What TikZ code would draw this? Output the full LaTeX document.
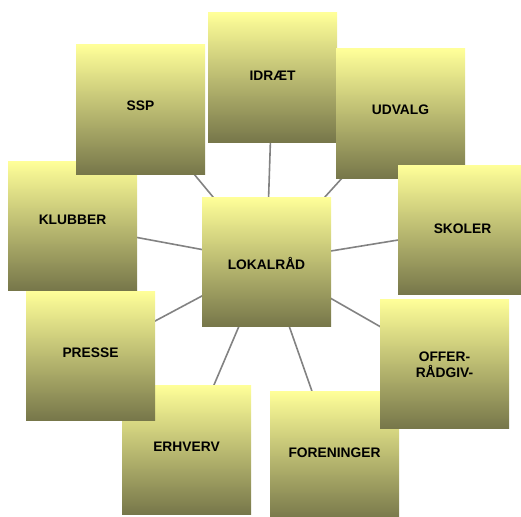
\documentclass[tikz,border=0pt]{standalone}
\usepackage{fontspec}
\setmainfont{Liberation Sans}
\usetikzlibrary{backgrounds}
\definecolor{lysgul}{RGB}{255,255,153}
\definecolor{oliven}{RGB}{119,119,74}
\definecolor{streg}{RGB}{130,130,130}
\tikzset{
  felt/.style={rectangle, minimum width=129pt, minimum height=129pt, inner sep=0pt,
    top color=lysgul, bottom color=oliven},
  tekst/.style={align=center, inner sep=0pt, font=\fontsize{13.8}{16}\selectfont\bfseries},
  eger/.style={draw=streg, line width=1.6pt}
}
\begin{document}
\begin{tikzpicture}[x=1pt,y=-1pt]
\useasboundingbox (0,0) rectangle (521,516);
% boksene rundt om
\foreach \n/\p/\h/\t in {klubber/{72.5,225.5}/5.5/KLUBBER, ssp/{140.5,109.5}/3.5/SSP,
    idraet/{272.5,77.5}/1.5/IDRÆT, udvalg/{400.5,113.5}/3.5/UDVALG,
    skoler/{462.5,229.5}/0.5/SKOLER, forening/{334.5,455.5}/2.5/FORENINGER,
    offer/{444.5,363.5}/-1.5/{OFFER-\\RÅDGIV-}, erhverv/{186.5,449.5}/2.5/ERHVERV,
    presse/{90.5,355.5}/2.5/PRESSE}
  {\node[felt] (\n) at (\p) {};
   \node[tekst] at ([yshift=\h pt]\n.center) {\t};}
\node[felt] (lokal) at (266.5,261.5) {};
\node[tekst] at ([yshift=-1.5pt]lokal.center) {LOKALRÅD};
% streger bag boksene
\begin{pgfonlayer}{background}
\foreach \n in {klubber,ssp,idraet,udvalg,skoler,forening,offer,erhverv,presse}
    \draw[eger] (lokal.center) -- (\n.center);
\end{pgfonlayer}
\end{tikzpicture}
\end{document}
